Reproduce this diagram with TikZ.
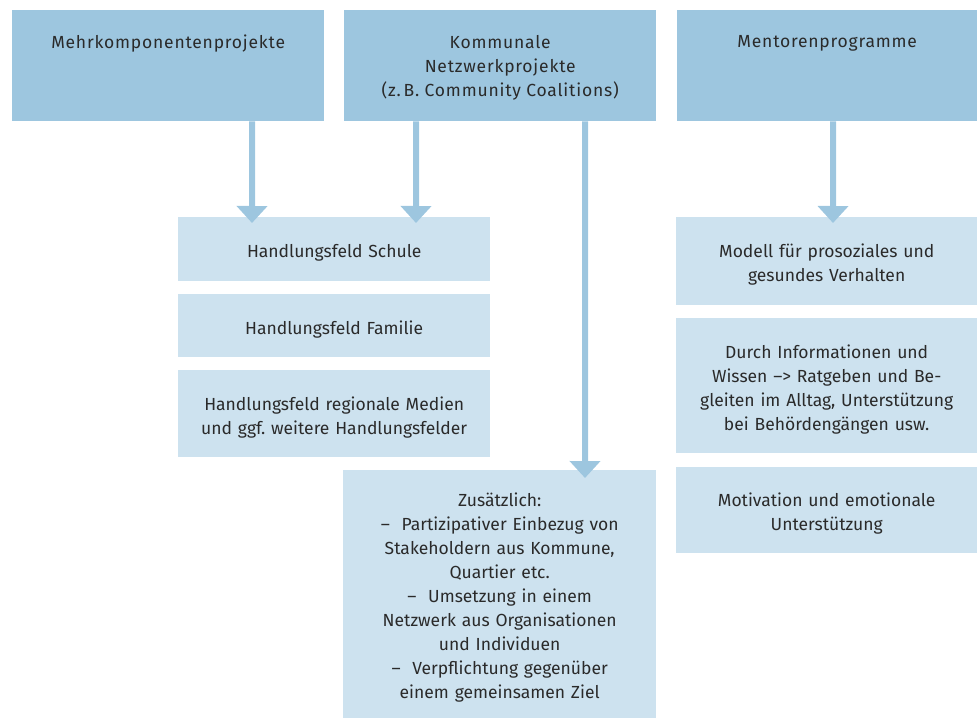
\documentclass[tikz,border=0pt]{standalone}
\usepackage{fontspec}
\setmainfont{Fira Sans}
\usepackage{tikz}
\usetikzlibrary{arrows.meta,positioning}
\definecolor{headblue}{HTML}{9DC6DF}
\definecolor{fieldblue}{HTML}{CDE2EF}
\definecolor{textgray}{HTML}{2A2A2A}
\frenchspacing
\tikzstyle{head_box} = [fill=headblue, inner sep=0pt, anchor=north west, text=textgray]
\tikzstyle{field_box} = [fill=fieldblue, inner sep=0pt, anchor=north west, align=center, text width=290pt, text=textgray, execute at begin node={\rule{0pt}{21pt}}]
\tikzstyle{edge_flow} = [draw=headblue, line width=6pt, -{Triangle[width=30pt,length=17pt]}]

\begin{document}
\begin{tikzpicture}[x=1pt, y=-1pt, font=\fontsize{17.5}{24}\selectfont]
		\def\headtext#1#2{\parbox[c][111pt][t]{#1}{\centering\addfontfeatures{LetterSpace=4.5}\vspace*{25pt}#2}}
		\useasboundingbox (0,0) rectangle (977,718);
		\node (mehr) at (12,10) [head_box] {\headtext{312pt}{Mehrkomponentenprojekte}};
		\node (komm) at (344,10) [head_box] {\headtext{312pt}{Kommunale\\Netzwerkprojekte\\(z.\,B. Community Coalitions)}};
		\node (mentor) at (677,10) [head_box] {\headtext{300pt}{Mentorenprogramme}};
		
		\node (schule) at (178,217) [field_box, minimum width=312pt, minimum height=64pt] {Handlungsfeld Schule};
		\node (familie) at (178,294) [field_box, minimum width=312pt, minimum height=63pt] {Handlungsfeld Familie};
		\node (medien) at (178,370) [field_box, minimum width=312pt, minimum height=87pt] {Handlungsfeld regionale Medien\\und ggf. weitere Handlungsfelder};
		\node (zusatz) at (343,470) [field_box, minimum width=313pt, minimum height=248pt] {Zusätzlich:\\–\ \ Partizipativer Einbezug von\\Stakeholdern aus Kommune,\\Quartier etc.\\–\ \ Umsetzung in einem\\Netzwerk aus Organisationen\\und Individuen\\–\ \ Verpflichtung gegenüber\\einem gemeinsamen Ziel};
		\node (modell) at (676,217) [field_box, minimum width=301pt, minimum height=88pt] {Modell für prosoziales und\\gesundes Verhalten};
		\node (durch) at (676,318) [field_box, minimum width=301pt, minimum height=135pt] {Durch Informationen und\\Wissen –> Ratgeben und Be-\\gleiten im Alltag, Unterstützung\\bei Behördengängen usw.};
		\node (motiv) at (676,467) [field_box, minimum width=301pt, minimum height=86pt] {Motivation und emotionale\\Unterstützung};
		
		\draw[edge_flow] ([xshift=84pt]mehr.south) -- ([xshift=74pt,yshift=-6pt]schule.north west);
		\draw[edge_flow] ([xshift=-84pt]komm.south) -- ([xshift=238pt,yshift=-6pt]schule.north west);
		\draw[edge_flow] ([xshift=85pt]komm.south) -- ([xshift=242pt,yshift=-8pt]zusatz.north west);
		\draw[edge_flow] ([xshift=6pt]mentor.south) -- ([xshift=157pt,yshift=-6pt]modell.north west);
\end{tikzpicture}
\end{document}
